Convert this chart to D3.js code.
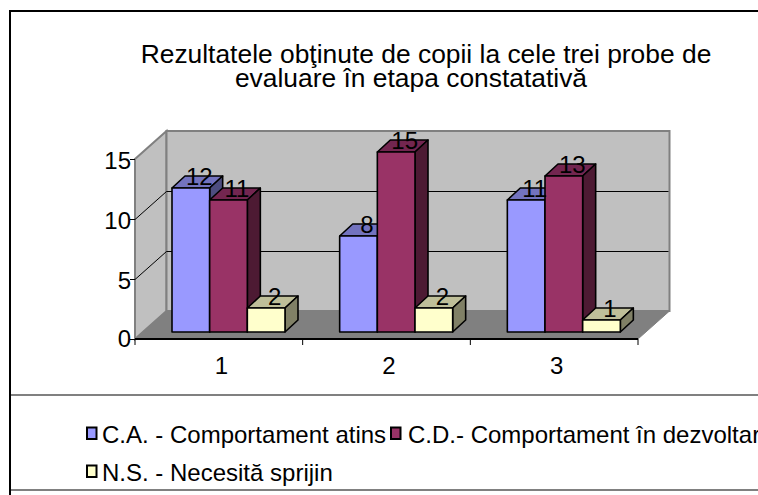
<!DOCTYPE html>
<html>
<head>
<meta charset="utf-8">
<script src="https://cdnjs.cloudflare.com/ajax/libs/d3/7.8.5/d3.min.js"></script>
<style>
  html, body { margin: 0; padding: 0; background: #fff; overflow: hidden; }
  svg { display: block; }
  text { font-family: "Liberation Sans", Arial, sans-serif; fill: #000; }
</style>
</head>
<body>
<svg id="chart" width="758" height="495"></svg>
<script>
const categories = ["1", "2", "3"];
const seriesNames = ["C.A. - Comportament atins", "C.D.- Comportament în dezvoltare", "N.S. - Necesită sprijin"];
const caValues = [12, 8, 11];
const cdValues = [11, 15, 13];
const nsValues = [2, 2, 1];
const yTicks = [0, 5, 10, 15];
const titleLines = ["Rezultatele obţinute de copii la cele trei probe de", "evaluare în etapa constatativă"];

const seriesValues = [caValues, cdValues, nsValues];
const colors = ["#9999ff", "#993366", "#ffffcc"];
const topColors = ["#7373bf", "#732650", "#bfbf99"];
const sideColors = ["#4d4d80", "#4d1a33", "#808066"];

const svg = d3.select("#chart");

// plot box: front plane, and how far back the walls sit
const left = 135, right = 638, base = 339, top15 = 159;
const wallDx = 31.5, wallDy = -28;
const barDx = 13, barDy = -12, barBaseLift = 7;
const labelSize = 24;

const x = d3.scaleBand().domain(categories).range([left, right]);
const xInner = d3.scaleBand().domain(d3.range(3)).range([37, 37 + 113]);
const y = d3.scaleLinear().domain([0, 15]).range([base, top15]);

// outer frame, the chart runs off the right edge
svg.append("path").attr("d", "M10,495V11H758").attr("fill", "none").attr("stroke", "#000").attr("stroke-width", 2);
svg.selectAll(".sep").data([395, 490]).join("line")
    .attr("x1", 11).attr("x2", 758).attr("y1", d => d).attr("y2", d => d)
    .attr("stroke", "#808080").attr("stroke-width", 2);

// title, the second line is not quite centred under the first in the original
const titleCx = [426, 411];
svg.selectAll(".title").data(titleLines).join("text")
    .attr("class", "title")
    .attr("x", (d, i) => titleCx[i])
    .attr("y", (d, i) => 62.6 + i * 24)
    .attr("text-anchor", "middle")
    .attr("font-size", 26.4)
    .text(d => d);

// walls and floor
const poly = pts => "M" + pts.map(p => p.join(",")).join("L") + "Z";
svg.append("path")
    .attr("d", poly([[left, y(15)], [left + wallDx, y(15) + wallDy], [left + wallDx, base + wallDy], [left, base]]))
    .attr("fill", "#c0c0c0").attr("stroke", "#808080").attr("stroke-width", 2);
svg.append("path")
    .attr("d", poly([[left + wallDx, y(15) + wallDy], [right + wallDx, y(15) + wallDy], [right + wallDx, base + wallDy], [left + wallDx, base + wallDy]]))
    .attr("fill", "#c0c0c0").attr("stroke", "#808080").attr("stroke-width", 2);
svg.append("path")
    .attr("d", poly([[left, base], [left + wallDx, base + wallDy], [right + wallDx, base + wallDy], [right, base]]))
    .attr("fill", "#808080").attr("stroke", "#808080");

// gridlines on both walls
const gridVals = yTicks.filter(d => d > 0 && d < 15);
svg.selectAll(".grid").data(gridVals).join("path")
    .attr("d", d => `M${left},${y(d) + 0.5}L${left + wallDx},${y(d) + wallDy + 0.5}H${right + wallDx - 1}`)
    .attr("fill", "none").attr("stroke", "#000").attr("stroke-width", 1);

// axes
const yAxis = d3.axisLeft(y).tickValues(yTicks).tickSize(5).tickPadding(-1);
const yG = svg.append("g").attr("transform", `translate(${left},0)`).call(yAxis);
yG.select(".domain").remove();
yG.selectAll("line").attr("stroke", "#000").attr("shape-rendering", "crispEdges");
yG.selectAll("text")
    .attr("font-size", labelSize).attr("font-family", "Liberation Sans").attr("fill", "#000")
    .attr("y", d => d > 0 ? 2 : 0);

const xAxis = d3.axisBottom(x).tickSize(0).tickPadding(18);
const xG = svg.append("g").attr("transform", `translate(0,${base})`).call(xAxis);
xG.select(".domain").attr("stroke", "#000").attr("stroke-width", 2).attr("d", `M${left},0H${right}`);
xG.selectAll("text")
    .attr("font-size", labelSize).attr("font-family", "Liberation Sans").attr("fill", "#000")
    .attr("dx", 2.5);
svg.selectAll(".xtick").data(d3.range(4)).join("line")
    .attr("x1", d => left + d * x.step()).attr("x2", d => left + d * x.step())
    .attr("y1", base).attr("y2", base + 6)
    .attr("stroke", "#000");

// 3d bars, left to right so each one covers the side of the previous
const barBase = base - barBaseLift;
const h = d => y(0) - y(d);
const barW = xInner.bandwidth();
categories.forEach((cat, c) => {
  seriesValues.forEach((vals, s) => {
    const x0 = x(cat) + xInner(s), x1 = x0 + barW;
    const yt = barBase - h(vals[c]);
    const g = svg.append("g").attr("stroke", "#000").attr("stroke-width", 1.6).attr("stroke-linejoin", "round");
    g.append("path").attr("fill", topColors[s])
        .attr("d", poly([[x0, yt], [x0 + barDx, yt + barDy], [x1 + barDx, yt + barDy], [x1, yt]]));
    g.append("path").attr("fill", sideColors[s])
        .attr("d", poly([[x1, yt], [x1 + barDx, yt + barDy], [x1 + barDx, barBase + barDy], [x1, barBase]]));
    g.append("rect").attr("fill", colors[s])
        .attr("x", x0).attr("y", yt).attr("width", barW).attr("height", barBase - yt);
  });
});

// value labels sit on top of everything
categories.forEach((cat, c) => {
  seriesValues.forEach((vals, s) => {
    svg.append("text")
        .attr("x", x(cat) + xInner(s) + barW / 2 + 8.5)
        .attr("y", barBase - h(vals[c]) - 3)
        .attr("text-anchor", "middle")
        .attr("font-size", labelSize)
        .text(vals[c]);
  });
});

// legend, wraps to two rows and is cut by the window
const legendX = [86, 390, 86], legendTextX = [102, 408, 102], legendY = [442, 442, 480];
seriesNames.forEach((name, i) => {
  svg.append("rect")
      .attr("x", legendX[i] + 1).attr("y", legendY[i] - 14.5)
      .attr("width", 9.5).attr("height", 11.5)
      .attr("fill", colors[i]).attr("stroke", "#000").attr("stroke-width", 2);
  svg.append("text")
      .attr("x", legendTextX[i]).attr("y", legendY[i] + 0.7)
      .attr("font-size", labelSize)
      .text(name);
});
</script>
</body>
</html>
